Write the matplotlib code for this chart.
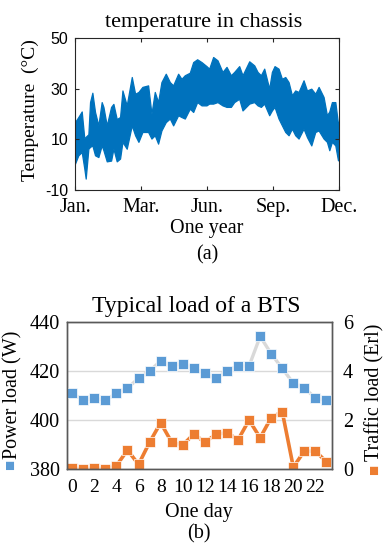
import matplotlib.pyplot as plt

# ---- (a) temperature in chassis, upper / lower edge of the yearly band ----
temp_day = [0, 4.6, 9.3, 12.9, 14.8, 18.5, 20.8, 24.0, 27.7, 32.3, 36.9, 39.3,
            43.9, 49.9, 53.1, 57.7, 62.3, 65.6, 71.5, 78.5, 83.1, 87.7, 93.2,
            101.1, 105.7, 110.3, 114.9, 119.5, 125.5, 131.1, 135.7, 142.6,
            147.2, 151.8, 158.7, 163.4, 168.9, 174.9, 181.8, 185.5, 191.0,
            197.0, 203.9, 209.5, 215.5, 220.1, 227.0, 231.6, 240.9, 247.8,
            252.4, 257.0, 261.6, 268.5, 272.2, 275.9, 281.4, 286.1, 290.7,
            295.3, 299.9, 304.5, 309.1, 316.0, 320.7, 326.7, 332.2, 336.8,
            343.7, 348.3, 351.6, 355.2, 359.9, 363.6, 365]
temp_high = [16.8, 18.8, 21.0, 10.3, 11.0, 12.0, 24.7, 28.4, 20.8, 15.5, 24.7,
             22.8, 15.5, 22.8, 24.0, 18.0, 18.8, 29.3, 23.4, 34.6, 28.0, 28.7,
             30.7, 31.3, 20.1, 28.7, 24.7, 32.6, 35.9, 32.6, 31.3, 35.9, 33.9,
             35.3, 36.3, 40.5, 41.6, 40.5, 38.9, 37.9, 42.5, 41.2, 36.6, 38.6,
             35.3, 36.6, 38.9, 35.3, 40.8, 39.2, 36.6, 35.3, 37.9, 30.0, 36.6,
             38.9, 37.9, 33.9, 34.6, 32.6, 27.4, 29.3, 28.7, 33.3, 29.3, 30.0,
             28.0, 30.7, 26.7, 19.5, 21.0, 24.7, 24.7, 16.2, 17.0]
temp_low = [0.4, 3.7, 5.0, -1.6, -5.5, 6.3, 7.0, 7.6, 3.7, 3.0, 7.6, 5.7, 1.3,
            1.6, 6.3, 1.3, 2.4, 9.0, 6.3, 15.5, 11.6, 9.0, 12.9, 12.9, 10.3,
            11.6, 8.3, 13.5, 16.8, 18.2, 15.5, 19.5, 18.8, 18.2, 22.1, 20.8,
            24.7, 23.4, 23.4, 24.1, 24.1, 24.7, 23.4, 22.8, 22.8, 24.7, 26.0,
            21.4, 24.1, 24.7, 23.4, 22.8, 24.1, 19.5, 21.4, 22.8, 18.2, 15.5,
            12.9, 11.6, 14.2, 11.6, 10.3, 14.2, 10.9, 7.6, 12.9, 13.5, 10.3,
            9.0, 5.7, 9.0, 7.6, 1.7, 5.0]
month_ticks = [0, 91.25, 182.5, 273.75, 365]
month_labels = ["Jan.", "Mar.", "Jun.", "Sep.", "Dec."]
temp_ticks = [-10, 10, 30, 50]

# ---- (b) typical load of a BTS over one day ----
hours = list(range(24))
power_load = [411, 408, 409, 408, 411, 413, 417, 420, 424, 422, 423, 421,
              419, 417, 420, 422, 422, 434, 427, 421, 415, 413, 409, 408]
traffic_load = [0.07, 0.0, 0.07, 0.0, 0.15, 0.78, 0.2, 1.1, 1.89, 1.1, 0.99,
                1.43, 1.1, 1.42, 1.49, 1.2, 2.0, 1.28, 2.1, 2.34, 0.09, 0.74,
                0.74, 0.3]

SERIF = ["Liberation Serif", "DejaVu Serif"]
SANS = ["Liberation Sans", "DejaVu Sans"]
W, H = 383, 544


def fx(px):
    return px / W


def fy(py):
    return 1 - py / H


fig = plt.figure(figsize=(W / 100, H / 100), dpi=100)

# ---------------- top chart ----------------
ax = fig.add_axes([fx(75), fy(190), 264 / W, 152 / H])
ax.fill_between(temp_day, temp_low, temp_high, color="#0072BD",
                edgecolor="#0072BD", linewidth=0.9)
ax.set_xlim(0, 365)
ax.set_ylim(-10, 50)
ax.set_xticks(month_ticks)
ax.set_xticklabels(month_labels, family=SERIF, fontsize=14.5)
ax.set_yticks(temp_ticks)
ax.set_yticklabels([str(t) for t in temp_ticks], family=SANS, fontsize=11.5)
ax.tick_params(direction="in", top=True, right=True, length=3, width=0.8,
               color="#262626")
ax.tick_params(axis="x", pad=6)
ax.tick_params(axis="y", pad=5)
for s in ax.spines.values():
    s.set_color("#262626")
    s.set_linewidth(0.8)
fig.text(fx(204), fy(26.5), "temperature in chassis", family=SERIF,
         fontsize=16, ha="center", va="baseline")
fig.text(fx(207), fy(233), "One year", family=SERIF, fontsize=14.5,
         ha="center", va="baseline")
fig.text(fx(30), fy(110), "Temperature  (\u00b0C)", family=SERIF,
         fontsize=14, rotation=90, ha="center", va="center")
fig.text(fx(207), fy(259), "(a)", family=SERIF, fontsize=14.5,
         ha="center", va="baseline")

# ---------------- bottom chart ----------------
bx = fig.add_axes([fx(66.7), fy(469.3), 265.3 / W, 147.6 / H])
bx2 = bx.twinx()
bx.set_zorder(bx2.get_zorder() + 1)
bx.patch.set_visible(False)

bx.set_xlim(-0.5, 23.5)
bx.set_ylim(380, 440)
bx.set_yticks([380, 400, 420, 440])
bx2.set_ylim(0, 6)
bx2.set_yticks([0, 2, 4, 6])
bx.set_xticks(hours[::2])

bx2.grid(axis="y", color="#D9D9D9", linewidth=1)
bx2.set_axisbelow(True)

bx2.plot(hours, traffic_load, color="#ED7D31", linewidth=2.6, marker="s",
         markersize=7, markerfacecolor="#ED7D31", markeredgecolor="white",
         markeredgewidth=0.5)
bx.plot(hours, power_load, color="#D9D9D9", linewidth=2.4, marker="s",
        markersize=7, markerfacecolor="#5B9BD5", markeredgecolor="white",
        markeredgewidth=0.5)

for a in (bx, bx2):
    a.tick_params(length=0, labelsize=14.5)
    for lab in a.get_xticklabels() + a.get_yticklabels():
        lab.set_family(SERIF)
    for s in a.spines.values():
        s.set_color("#595959")
        s.set_linewidth(1)
bx.tick_params(axis="y", pad=5)
bx2.tick_params(axis="y", pad=8)
bx.tick_params(axis="x", labelsize=14, pad=7)

fig.text(fx(196), fy(312), "Typical load of a BTS", family=SERIF,
         fontsize=17, ha="center", va="baseline")
fig.text(fx(199), fy(517), "One day", family=SERIF, fontsize=14.5,
         ha="center", va="baseline")
fig.text(fx(13), fy(394.5), "Power load (W)", family=SERIF, fontsize=14.5,
         rotation=90, ha="center", va="center")
fig.text(fx(374.5), fy(392.5), "Traffic load (Erl)", family=SERIF,
         fontsize=14.5, rotation=90, ha="center", va="center")
fig.text(fx(10.5), fy(466), "\u25a0", color="#5B9BD5", fontsize=12,
         family=SANS, ha="center", va="center")
fig.text(fx(374), fy(471), "\u25a0", color="#ED7D31", fontsize=12,
         family=SANS, ha="center", va="center")
fig.text(fx(199), fy(538), "(b)", family=SERIF, fontsize=14.5,
         ha="center", va="baseline")

fig.savefig("out.png", dpi=100)
